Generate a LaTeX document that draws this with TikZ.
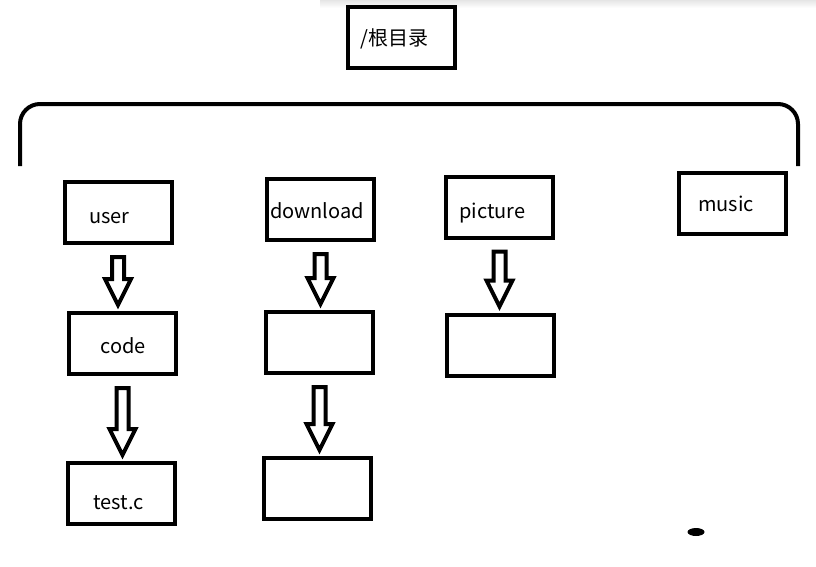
\documentclass[tikz,border=0pt]{standalone}
\usepackage{fontspec}
\setmainfont{Noto Sans CJK SC}
\usetikzlibrary{calc}
\tikzstyle{dirbox}=[
    draw, line width=4pt,
    minimum width=107pt, minimum height=61pt,
    inner sep=0pt,
]
\tikzstyle{hollow}=[draw, line width=4pt, line join=miter, fill=white]
% hollow block arrow from the bottom of #2 to the top of #3
\newcommand{\dirarrow}[3][0]{%
    \draw[hollow, xshift=#1pt] let \p1=(#2.south), \p2=(#3.north) in
        (\x1-6pt,\y1-12pt) -- (\x1-6pt,\y2+32pt) -- (\x1-13pt,\y2+32pt)
        -- (\x1,\y2+6pt) -- (\x1+13pt,\y2+32pt) -- (\x1+6pt,\y2+32pt)
        -- (\x1+6pt,\y1-12pt) -- cycle;
}

\begin{document}
\begin{tikzpicture}[x=1pt, y=-1pt, font=\fontsize{20}{24}\selectfont]
    \useasboundingbox (0,0) rectangle (816,566);
    \shade[top color=black!10, bottom color=white] (320,0) rectangle (816,8);
    \node[dirbox, label={[shift={(-6.5,1.5)}]center:/根目录}] (root) at (401,37) {};
    \draw[line width=4pt, rounded corners=20pt] (20,166) -- (20,104) -- (798,104) -- (798,166);
    \node[dirbox, label={[shift={(-8.5,5.5)}]center:user}] (user) at (118,212.5) {};
    \node[dirbox, label={[shift={(-3.5,1.5)}]center:download}] (download) at (320.5,209.5) {};
    \node[dirbox, label={[shift={(-7,6)}]center:picture}] (picture) at (499.5,207) {};
    \node[dirbox, label={[shift={(-6,0.5)}]center:music}] (music) at (732,203.5) {};
    \node[dirbox, label={[shift={(0.5,2.5)}]center:code}] (code) at (122.5,343.5) {};
    \node[dirbox, label={[shift={(-3,9.5)}]center:test.c}] (testc) at (121.5,493.5) {};
    \node[dirbox] (dlsub) at (319.5,342.5) {};
    \node[dirbox] (dlsubsub) at (317.5,488.5) {};
    \node[dirbox] (picsub) at (500.5,345) {};
    \dirarrow[-7]{user}{code}
    \dirarrow[-3.5]{code}{testc}
    \dirarrow[3.5]{download}{dlsub}
    \dirarrow[4.5]{dlsub}{dlsubsub}
    \dirarrow[1.5]{picture}{picsub}
    \fill (696,532) ellipse [x radius=8.5, y radius=4];
\end{tikzpicture}
\end{document}
